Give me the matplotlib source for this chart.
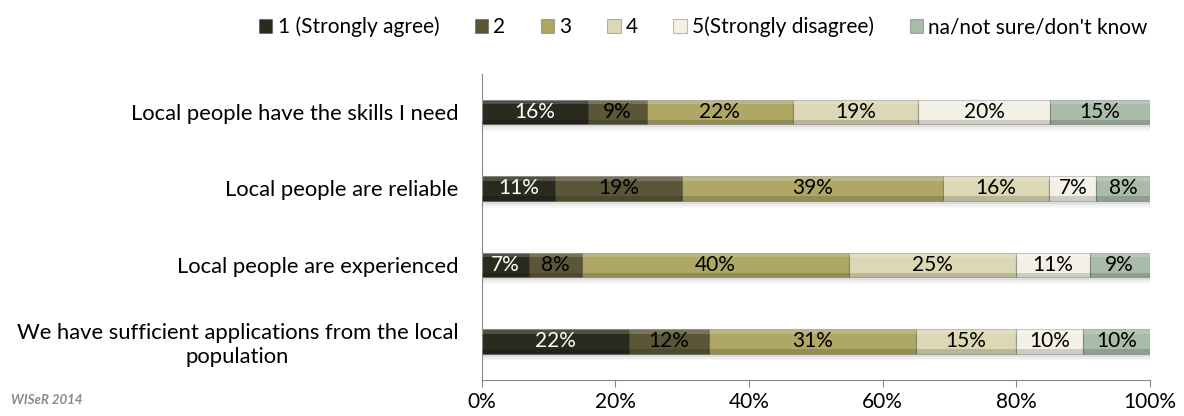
import matplotlib.pyplot as plt
import numpy as np

plt.rcParams['font.family'] = ['Lato', 'DejaVu Sans']

statements = ['Local people have the skills I need',
              'Local people are reliable',
              'Local people are experienced',
              'We have sufficient applications from the local\npopulation']
responses = ['1 (Strongly agree)', '2', '3', '4', '5(Strongly disagree)',
             'na/not sure/don\'t know']
# percent per statement, one list per response
agree1 = [16, 11, 7, 22]
agree2 = [9, 19, 8, 12]
agree3 = [22, 39, 40, 31]
agree4 = [19, 16, 25, 15]
agree5 = [20, 7, 11, 10]
not_sure = [15, 8, 9, 10]

colors = ['#2b2a1e', '#5a5637', '#aea766', '#dcd7b5', '#f3f1e6', '#a9bba9']
text_colors = ['white', 'black', 'black', 'black', 'black', 'black']

data = np.array([agree1, agree2, agree3, agree4, agree5, not_sure], dtype=float)
shares = data / data.sum(axis=0)  # 100% stacked

fig = plt.figure(figsize=(11.84, 4.16), dpi=100)
ax = fig.add_axes([0.407, 0.0875, 0.564, 0.735])

y = np.arange(len(statements))
h = 0.32
left = np.zeros(len(statements))

# soft shadow under each bar
for k, a in enumerate([0.05, 0.04, 0.03]):
    ax.barh(y + 0.04 + 0.025 * k, shares.sum(axis=0), h, left=0, color='#000000',
            alpha=a, linewidth=0, zorder=1)

for i in range(len(responses)):
    ax.barh(y, shares[i], h, left=left, color=colors[i], edgecolor='#00000040',
            linewidth=0.8, label=responses[i], zorder=2)
    # bevel: light top strip, dark bottom strip
    ax.barh(y - h / 2 + h * 0.09, shares[i], h * 0.18, left=left, color='white',
            alpha=0.18, linewidth=0, zorder=3)
    ax.barh(y + h / 2 - h * 0.09, shares[i], h * 0.18, left=left, color='black',
            alpha=0.15, linewidth=0, zorder=3)
    for j in range(len(statements)):
        ax.text(left[j] + shares[i][j] / 2, y[j], '{:.0f}%'.format(data[i][j]),
                ha='center', va='center', fontsize=15, color=text_colors[i], zorder=4)
    left += shares[i]

ax.set_xlim(0, 1)
ax.set_ylim(3.5, -0.5)
ax.set_yticks(y)
ax.set_yticklabels(statements, fontsize=15.8)
for lbl in ax.get_yticklabels():
    lbl.set_multialignment('center')
ax.tick_params(axis='y', length=0, pad=17)
ax.set_xticks(np.linspace(0, 1, 6))
ax.set_xticklabels(['0%', '20%', '40%', '60%', '80%', '100%'], fontsize=15)
ax.tick_params(axis='x', length=5, color='#888888', pad=4)
for s in ['top', 'right']:
    ax.spines[s].set_visible(False)
for s in ['left', 'bottom']:
    ax.spines[s].set_color('#888888')

handles, labels = ax.get_legend_handles_labels()
fig.legend(handles[:6], labels[:6], loc='center', bbox_to_anchor=(0.594, 0.935), ncol=6,
           frameon=False, fontsize=15, handlelength=0.65, handleheight=0.65,
           handletextpad=0.25, columnspacing=1.7)

fig.text(0.009, 0.028, 'WISeR 2014', fontsize=9.5, style='italic', fontweight='bold',
         color='#8a8a8a')

fig.savefig('out.png', dpi=100)
